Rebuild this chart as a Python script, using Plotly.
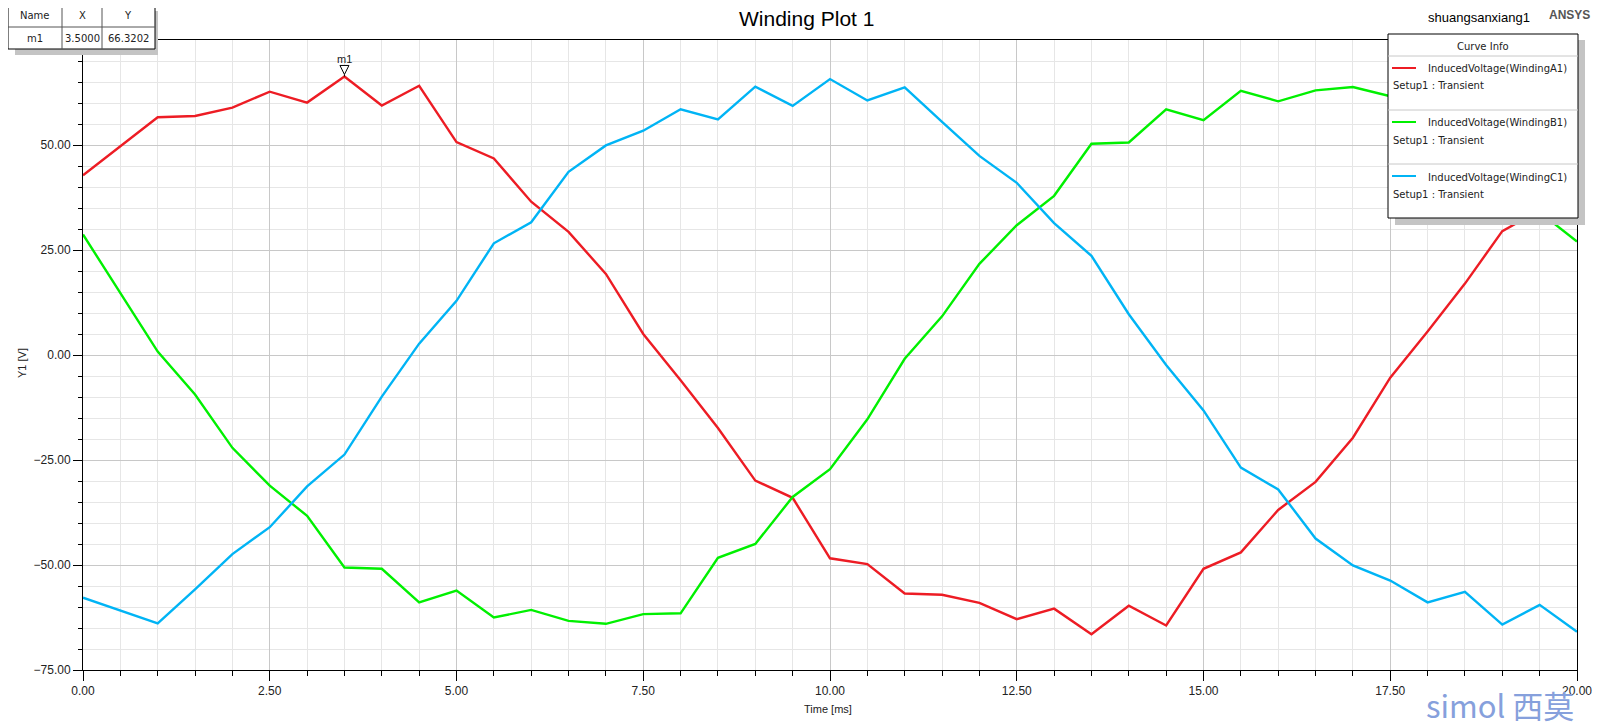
import plotly.graph_objects as go

# time axis [ms]
time_ms = [0.0, 0.5, 1.0, 1.5, 2.0, 2.5, 3.0, 3.5, 4.0, 4.5, 5.0,
           5.5, 6.0, 6.5, 7.0, 7.5, 8.0, 8.5, 9.0, 9.5, 10.0,
           10.5, 11.0, 11.5, 12.0, 12.5, 13.0, 13.5, 14.0, 14.5, 15.0,
           15.5, 16.0, 16.5, 17.0, 17.5, 18.0, 18.5, 19.0, 19.5, 20.0]

# induced voltages [V]
winding_a1 = [42.8, 49.8, 56.6, 56.9, 58.9, 62.7, 60.1, 66.32, 59.4, 64.1, 50.7,
              46.8, 36.5, 29.3, 19.3, 5.0, -6.0, -17.4, -29.9, -34.0, -48.4,
              -49.8, -56.8, -57.1, -59.0, -62.9, -60.4, -66.5, -59.7, -64.4, -50.9,
              -47.0, -36.9, -30.2, -19.7, -5.4, 5.6, 17.0, 29.5, 34.5, 42.5]
winding_b1 = [28.7, 14.6, 0.8, -9.4, -22.1, -31.1, -38.3, -50.6, -50.9, -58.9, -56.1,
              -62.5, -60.7, -63.3, -64.0, -61.7, -61.5, -48.3, -45.0, -33.8, -27.2,
              -15.3, -0.9, 9.2, 21.7, 30.9, 37.9, 50.3, 50.6, 58.5, 55.9,
              62.9, 60.4, 63.0, 63.8, 61.6, 62.0, 52.0, 45.0, 34.0, 27.0]
winding_c1 = [-57.8, -60.8, -63.9, -55.8, -47.4, -41.0, -31.3, -23.7, -9.9, 2.7, 12.9,
              26.6, 31.6, 43.6, 49.9, 53.4, 58.5, 56.1, 63.9, 59.3, 65.7,
              60.6, 63.7, 55.5, 47.4, 41.0, 31.4, 23.6, 9.7, -2.4, -13.2,
              -26.8, -32.0, -43.7, -50.1, -53.7, -58.9, -56.4, -64.2, -59.5, -65.9]

curve_names = ["InducedVoltage(WindingA1)", "InducedVoltage(WindingB1)", "InducedVoltage(WindingC1)"]
curve_colors = ["#ed1c24", "#00f000", "#00b4f5"]

y_ticks = [-75, -50, -25, 0, 25, 50]

marker_name = "m1"
marker_x = 3.5
marker_y = 66.3202

# page is 1606x725 but the html body has an 8px margin
W, H, OFF = 1606, 725, 8
L, R, T, B = 83, 1577, 40, 670   # plot area in page pixels
FONT = "Liberation Sans, Arial, sans-serif"
BOXFONT = "DejaVu Sans, Verdana, sans-serif"


def px(x):
    return (x - L) / (R - L)


def py(y):
    return (B - y) / (B - T)


fig = go.Figure()
for ys, name, col in zip([winding_a1, winding_b1, winding_c1], curve_names, curve_colors):
    fig.add_trace(go.Scatter(x=time_ms, y=ys, mode="lines", name=name,
                             line=dict(color=col, width=2.4), showlegend=False))

shapes = []
annotations = []

# marker m1
shapes.append(dict(type="path", xref="x", yref="y", xsizemode="pixel", ysizemode="pixel",
                   xanchor=marker_x, yanchor=marker_y,
                   path="M -4.5,11 L 4.5,11 L 0,2 Z", line=dict(color="black", width=1),
                   fillcolor="white", layer="above"))
shapes.append(dict(type="path", xref="x", yref="y", xsizemode="pixel", ysizemode="pixel",
                   xanchor=marker_x, yanchor=marker_y, path="M 0,0 L 0,2",
                   line=dict(color="black", width=1), layer="above"))
annotations.append(dict(x=marker_x, y=marker_y, xref="x", yref="y", text=marker_name,
                        showarrow=False, yshift=17, font=dict(family=FONT, size=11, color="#222")))


def rect(x0, y0, x1, y1, fill, line_color=None, width=1):
    shapes.append(dict(type="rect", xref="paper", yref="paper",
                       x0=px(x0), x1=px(x1), y0=py(y0), y1=py(y1),
                       fillcolor=fill, layer="above",
                       line=dict(color=line_color or fill, width=width if line_color else 0)))


def hline(x0, x1, y, color, width=1):
    shapes.append(dict(type="line", xref="paper", yref="paper", x0=px(x0), x1=px(x1),
                       y0=py(y), y1=py(y), line=dict(color=color, width=width), layer="above"))


def vline(x, y0, y1, color, width=1):
    shapes.append(dict(type="line", xref="paper", yref="paper", x0=px(x), x1=px(x),
                       y0=py(y0), y1=py(y1), line=dict(color=color, width=width), layer="above"))


def text(x, y, s, size=11, anchor="center", color="#222", bold=False, family=FONT, angle=0):
    annotations.append(dict(x=px(x), y=py(y), xref="paper", yref="paper",
                            text=f"<b>{s}</b>" if bold else s, textangle=angle,
                            showarrow=False, xanchor=anchor, yanchor="middle", borderpad=0,
                            font=dict(family=family, size=size, color=color)))


# marker table
rect(15, 11, 158, 55, "#c4c4c4")
rect(8, 5, 155, 49, "white", "black", 1)
vline(62, 5, 49, "#555")
vline(102, 5, 49, "#555")
hline(8, 155, 27, "#555")
text(35, 16, "Name", 10, family=BOXFONT)
text(82, 16, "X", 10, family=BOXFONT)
text(128, 16, "Y", 10, family=BOXFONT)
text(35, 38, marker_name, 10, family=BOXFONT)
text(82, 38, f"{marker_x:.4f}", 10, family=BOXFONT)
text(128, 38, f"{marker_y:.4f}", 10, family=BOXFONT)

# curve info box
rect(1395, 40, 1585, 225, "#c4c4c4")
rect(1388, 34, 1578, 218, "white", "black", 1)
text(1483, 47, "Curve Info", 10, family=BOXFONT)
hline(1388, 1578, 56, "#c8c8c8")
hline(1388, 1578, 110, "#c8c8c8")
hline(1388, 1578, 164, "#c8c8c8")
for i, (name, col) in enumerate(zip(curve_names, curve_colors)):
    y0 = 68 + i * 54
    hline(1392, 1416, y0, col, 2)
    text(1427, y0 + 1, name, 10, "left", family=BOXFONT)
    text(1392, y0 + 18, "Setup1 : Transient", 10, "left", family=BOXFONT)

# titles
text(806, 19, "Winding Plot 1", 21, color="black")
text(1479, 18, "shuangsanxiang1", 13, color="black")
text(1569, 15, "ANSYS", 12, color="#555", bold=True)
text(828, 709, "Time [ms]", 11)
text(22, 363, "Y1 [V]", 11, angle=-90)

# watermark
text(1500, 704, "simol 西莫", 31, color="#86a0dc", family="Noto Sans CJK SC, Noto Sans, sans-serif")

fig.update_layout(
    width=W - OFF, height=H - OFF,
    margin=dict(l=L - OFF, r=W - R, t=T - OFF, b=H - B),
    paper_bgcolor="white", plot_bgcolor="white",
    shapes=shapes, annotations=annotations,
    font=dict(family=FONT, size=12, color="#222"),
    showlegend=False,
)

fig.update_xaxes(range=[0, 20], dtick=2.5, tick0=0, tickformat=".2f",
                 showline=True, linecolor="black", linewidth=1, mirror=True,
                 ticks="outside", ticklen=10, tickcolor="black",
                 showgrid=True, gridcolor="#c8c8c8", gridwidth=1, zeroline=False,
                 minor=dict(dtick=0.5, ticks="outside", ticklen=5, tickcolor="black",
                            showgrid=True, gridcolor="#e6e6e6", gridwidth=1))
fig.update_yaxes(range=[-75, 75], tickvals=y_ticks, tickformat=".2f",
                 showline=True, linecolor="black", linewidth=1, mirror=True,
                 ticks="outside", ticklen=9, tickcolor="black",
                 showgrid=True, gridcolor="#c8c8c8", gridwidth=1, zeroline=False,
                 minor=dict(dtick=5, tick0=0, ticks="outside", ticklen=4, tickcolor="black",
                            showgrid=True, gridcolor="#e6e6e6", gridwidth=1))

fig.write_html("out.html")
